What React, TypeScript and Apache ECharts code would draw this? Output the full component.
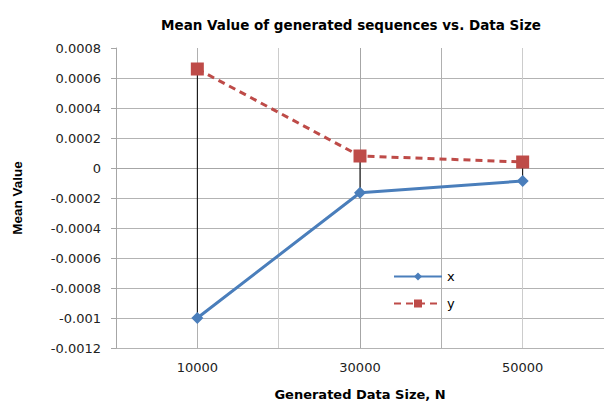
import React, { useEffect, useRef } from "react";
import * as echarts from "echarts";

const categories = [10000, 30000, 50000];
const xValues = [-0.001, -0.000165, -0.000087];
const yValues = [0.00066, 0.00008, 0.00004];
const yTicks = { min: -0.0012, max: 0.0008, interval: 0.0002 };
const xTicks = { min: 0, max: 60000, interval: 10000 };
const labelledX = [10000, 30000, 50000];

const FONT = "'DejaVu Sans', 'Liberation Sans', sans-serif";
const FONT2 = "'Liberation Sans', Arial, sans-serif";

export default function App() {
  const ref = useRef<HTMLDivElement>(null);
  useEffect(() => {
    if (!ref.current) return;
    const chart = echarts.init(ref.current, undefined, { renderer: "svg" });
    const xData = categories.map((c, i) => [c, xValues[i]]);
    const yData = categories.map((c, i) => [c, yValues[i]]);
    const drops = categories.map((c, i) => [c, xValues[i], yValues[i]]);
    // horizontal split line colors: hide zero line (index 6) and top line (index 10)
    const hColors: string[] = [];
    for (let i = 0; i <= 10; i++) hColors.push(i === 6 || i === 10 ? "rgba(0,0,0,0)" : "#b3b3b3");
    chart.setOption({
      animation: false,
      backgroundColor: "#fff",
      title: {
        text: "Mean Value of generated sequences vs. Data Size",
        left: 346,
        top: 13,
        textAlign: "center",
        textStyle: { fontFamily: FONT, fontSize: 13.5, fontWeight: "bold", color: "#000" },
      },
      legend: {
        orient: "vertical",
        left: 388,
        top: 265,
        itemWidth: 48,
        itemHeight: 10,
        itemGap: 14,
        data: ["x", "y"],
        textStyle: { fontFamily: FONT, fontSize: 13, color: "#000" },
      },
      grid: {
        left: 116,
        right: 0,
        top: 48,
        bottom: 57,
        containLabel: false,
        outerBoundsMode: "none",
      },
      xAxis: {
        type: "value",
        min: xTicks.min,
        max: xTicks.max,
        interval: xTicks.interval,
        name: "Generated Data Size, N",
        nameLocation: "middle",
        nameGap: 40,
        nameTextStyle: { fontFamily: FONT, fontSize: 13, fontWeight: "bold", color: "#000" },
        axisLine: { show: true, lineStyle: { color: "#a6a6a6", width: 1 } },
        axisTick: { show: false },
        axisLabel: {
          margin: 13,
          fontFamily: FONT,
          fontSize: 13,
          color: "#222",
          formatter: (v: number) => (labelledX.indexOf(v) >= 0 ? String(v) : ""),
        },
        splitLine: {
          show: true,
          lineStyle: { color: ["#a6a6a6", "#b0b0b0", "#cccccc"], width: 1 },
        },
      },
      yAxis: {
        type: "value",
        min: yTicks.min,
        max: yTicks.max,
        interval: yTicks.interval,
        name: "Mean Value",
        nameLocation: "middle",
        nameGap: 92,
        nameTextStyle: { fontFamily: FONT2, fontSize: 13.5, fontWeight: "bold", color: "#000" },
        axisLine: { show: true, lineStyle: { color: "#a6a6a6", width: 1 } },
        axisTick: { show: true, length: 5, lineStyle: { color: "#a6a6a6" } },
        axisLabel: {
          margin: 15,
          fontFamily: FONT,
          fontSize: 13,
          color: "#222",
          formatter: (v: number) => String(parseFloat(v.toFixed(4))),
        },
        splitLine: { show: true, lineStyle: { color: hColors, width: 1 } },
      },
      series: [
        {
          type: "custom",
          name: "drop",
          z: 1,
          silent: true,
          renderItem: (params: any, api: any) => {
            const p1 = api.coord([api.value(0), api.value(1)]);
            const p2 = api.coord([api.value(0), api.value(2)]);
            return {
              type: "line",
              shape: { x1: p1[0], y1: p1[1], x2: p2[0], y2: p2[1] },
              style: { stroke: "#000", lineWidth: 1 },
            };
          },
          encode: { x: 0, y: [1, 2] },
          data: drops,
        },
        {
          type: "line",
          name: "x",
          z: 3,
          data: xData,
          symbol: "diamond",
          symbolSize: 12,
          lineStyle: { color: "#4a7ebb", width: 3 },
          itemStyle: { color: "#4a7ebb" },
        },
        {
          type: "line",
          name: "y",
          z: 2,
          data: yData,
          symbol: "rect",
          symbolSize: 13,
          lineStyle: { color: "#be4b48", width: 3, type: [7, 5] },
          itemStyle: { color: "#be4b48" },
        },
      ],
    });
    return () => chart.dispose();
  }, []);
  return (
    <div
      ref={ref}
      style={{ position: "absolute", left: 0, top: 0, width: 604, height: 405 }}
    />
  );
}
